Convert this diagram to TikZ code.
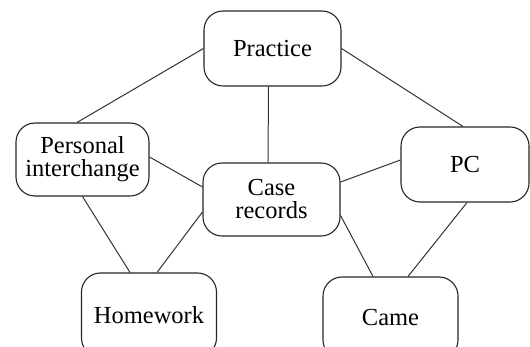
\documentclass[tikz,border=0pt]{standalone}
\usepackage{fontspec}
\setmainfont{Liberation Serif}
\tikzset{
  box/.style={draw=black!85, line width=1.1pt, rounded corners=19pt, align=center,
    inner sep=0pt, font=\fontsize{24.5}{23}\selectfont},
  link/.style={draw=black!80, line width=1pt}
}
\begin{document}
\begin{tikzpicture}[x=1pt,y=-1pt]
\useasboundingbox (0,0) rectangle (530,347);
\fill[white] (0,0) rectangle (530,347);
\clip (0,0) rectangle (530,347);
\node[box, minimum width=137pt, minimum height=75pt] (practice) at (272.5,48.5) {Practice};
\node[box, minimum width=133pt, minimum height=73pt] (personal) at (82.5,159.5) {Personal\\interchange};
\node[box, minimum width=137pt, minimum height=73pt] (case) at (271.5,199.5) {Case\\records};
\node[box, minimum width=128pt, minimum height=75pt] (pc) at (465,164.5) {PC};
\node[box, minimum width=135pt, minimum height=84pt] (homework) at (149,315) {Homework};
\node[box, minimum width=135pt, minimum height=82pt] (came) at (390.5,318) {Came};
\draw[link] (practice.west) -- ([xshift=-5.5pt]personal.north);
\draw[link] (practice.east) -- ([xshift=-2pt]pc.north);
\draw[link] ([xshift=-4pt]practice.south) -- ([xshift=-3.5pt]case.north);
\draw[link] ([yshift=2.5pt]personal.east) -- ([yshift=12.5pt]case.west);
\draw[link] (personal.south) -- ([xshift=-19pt]homework.north);
\draw[link] ([yshift=-12.5pt]case.west) -- ([xshift=8pt]homework.north);
\draw[link] ([yshift=17.5pt]case.east) -- ([yshift=4.5pt]pc.west);
\draw[link] ([yshift=-16pt]case.east) -- ([xshift=-17.5pt]came.north);
\draw[link] ([xshift=2pt]pc.south) -- ([xshift=17.5pt]came.north);
\end{tikzpicture}
\end{document}
